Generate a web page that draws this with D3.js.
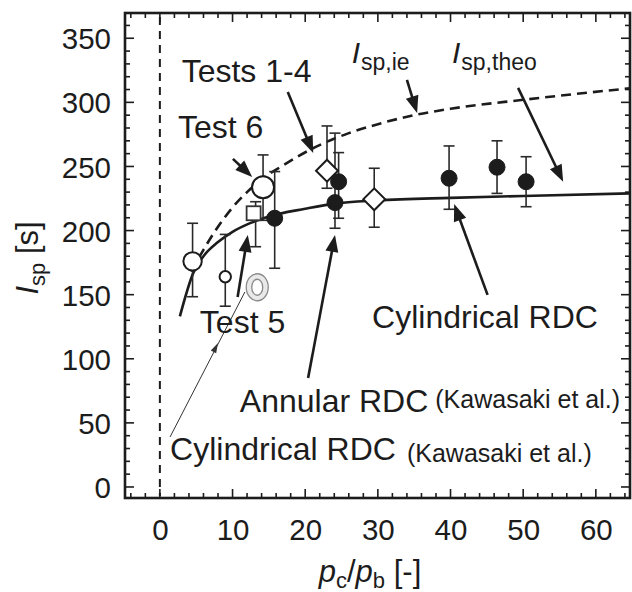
<!DOCTYPE html>
<html><head><meta charset="utf-8">
<script src="https://cdn.jsdelivr.net/npm/d3@7"></script>
<style>
body{margin:0;background:#fff}
svg{display:block}
text{font-family:"Liberation Sans",Arial,Helvetica,sans-serif;fill:#1c1c1c}
</style>
</head><body><svg id="c" width="632" height="592"></svg>
<script>
// ---------------- data ----------------
const xTickValues = [0, 10, 20, 30, 40, 50, 60];
const yTickValues = [0, 50, 100, 150, 200, 250, 300, 350];

// Isp,theo (solid) and Isp,ie (dashed) curves
const theoX = [2.75, 4.6, 6, 8, 10, 12.5, 15, 20, 24, 30, 40, 50, 64.7];
const theoY = [133, 167, 180, 191, 199, 206, 211, 217, 221, 223.5, 225.5, 227, 229];
const ieX = [4.3, 6, 8, 10, 12, 14, 17, 21, 26, 30, 35, 40, 50, 64.7];
const ieY = [168, 185, 203, 218, 230, 240, 251, 264, 276, 283, 290, 295, 302, 311];

// Cylindrical RDC (filled circles)
const cylX = [15.8, 24.1, 24.6, 39.8, 46.4, 50.4];
const cylY = [209.6, 221.8, 238.1, 240.8, 249.4, 238.1];
const cylLo = [170.6, 201.8, 209.6, 216.6, 229, 218.6];
const cylHi = [246, 276, 260.8, 266, 270, 257.6];

// Annular RDC (Kawasaki et al.) diamonds
const annX = [23.0, 29.5];
const annY = [246.7, 224.4];
const annLo = [233, 202.6];
const annHi = [281.6, 248.6];

// Tests 1-4 (large open circle), Test 6, small open circle
const bigOpenX = [4.5];
const bigOpenY = [176];
const bigOpenLo = [148.4];
const bigOpenHi = [205.7];
const test6X = [14.2];
const test6Y = [233.8];
const test6Lo = [208];
const test6Hi = [259];
const smallOpenX = [9.0];
const smallOpenY = [164];
const smallOpenLo = [141];
const smallOpenHi = [197];

// open square
const squareX = [12.9];
const squareY = [213.5];
const squareLo = [187.4];
const squareHi = [222.5];

// Test 5 (double circle)
const test5X = [13.4];
const test5Y = [155.8];

// annotation texts
const labels = [
  {t: "Tests 1-4", x: 3.0, y: 315.9, s: 32},
  {t: "Test 6", x: 2.5, y: 272.2, s: 32},
  {t: "Test 5", x: 5.5, y: 120.1, s: 32},
  {t: "Cylindrical RDC", x: 29.2, y: 124, s: 32},
  {t: "Annular RDC", x: 11, y: 58.5, s: 32},
  {t: "(Kawasaki et al.)", x: 37.9, y: 61.6, s: 25},
  {t: "Cylindrical RDC", x: 1.4, y: 21, s: 32},
  {t: "(Kawasaki et al.)", x: 34, y: 19.5, s: 25}
];
const subLabels = [
  {main: "I", sub: "sp,ie", x: 26.4, y: 330.7},
  {main: "I", sub: "sp,theo", x: 40.2, y: 330.7}
];
// arrows [x1,y1,x2,y2] in data units (tail -> head)
const arrows = [
  [17.6, 308, 21.1, 260.5],
  [34.0, 317.5, 35.4, 291.7],
  [49.3, 311.3, 55.5, 238],
  [10.05, 255.9, 12.7, 241.8],
  [10.7, 148.2, 12.1, 196.6],
  [20.4, 85, 24.1, 196.6],
  [45.1, 149.8, 40.5, 220.7]
];
const thinArrow = [1.4, 39, 11.7, 152.1];
const thinHeadAt = [8.0, 112.3];

// ---------------- chart ----------------
const svg = d3.select("#c");
const L = 125, R = 630, T = 13, B = 498;
const x = d3.scaleLinear().domain([-4.8, 64.7]).range([L, R]);
const y = d3.scaleLinear().domain([-8.6, 369.7]).range([B, T]);
const ink = "#1c1c1c";

const defs = svg.append("defs");
defs.append("clipPath").attr("id", "clip").append("rect")
  .attr("x", L).attr("y", T).attr("width", R - L).attr("height", B - T);

// vertical dashed line at x=0
svg.append("line").attr("x1", x(0)).attr("x2", x(0)).attr("y1", T + 4).attr("y2", B - 2)
  .attr("stroke", ink).attr("stroke-width", 2).attr("stroke-dasharray", "8,6");

// ticks (inward on all four sides)
const tickG = svg.append("g").attr("stroke", ink).attr("stroke-width", 1.6);
d3.range(-4, 65, 2).forEach(v => {
  const len = v % 10 === 0 ? 9 : 5;
  tickG.append("line").attr("x1", x(v)).attr("x2", x(v)).attr("y1", B).attr("y2", B - len);
  tickG.append("line").attr("x1", x(v)).attr("x2", x(v)).attr("y1", T).attr("y2", T + len);
});
d3.range(0, 370, 10).forEach(v => {
  const len = v % 50 === 0 ? 9 : 5;
  tickG.append("line").attr("y1", y(v)).attr("y2", y(v)).attr("x1", L).attr("x2", L + len);
  tickG.append("line").attr("y1", y(v)).attr("y2", y(v)).attr("x1", R).attr("x2", R - len);
});

// tick labels via axes (domain & tick lines hidden)
const xAxis = d3.axisBottom(x).tickValues(xTickValues).tickSize(0).tickPadding(0);
const gx = svg.append("g").attr("transform", `translate(0,${B})`).call(xAxis);
gx.select(".domain").remove();
gx.selectAll("text").attr("font-size", 29.5).attr("dy", null).attr("y", 42)
  .style("font-family", '"Liberation Sans",Arial,sans-serif').attr("fill", ink);
const yAxis = d3.axisLeft(y).tickValues(yTickValues).tickSize(0).tickPadding(0);
const gy = svg.append("g").attr("transform", `translate(${L},0)`).call(yAxis);
gy.select(".domain").remove();
gy.selectAll("text").attr("font-size", 29.5).attr("x", -14).attr("dy", "0.36em")
  .style("font-family", '"Liberation Sans",Arial,sans-serif').attr("fill", ink);

// axis titles
const xt = svg.append("text").attr("x", 370).attr("y", 582).attr("text-anchor", "middle").attr("font-size", 31);
xt.append("tspan").text("p").attr("font-style", "italic");
xt.append("tspan").text("c").attr("font-size", 22).attr("dy", 6);
xt.append("tspan").text("/").attr("dy", -6);
xt.append("tspan").text("p").attr("font-style", "italic");
xt.append("tspan").text("b").attr("font-size", 22).attr("dy", 6);
xt.append("tspan").text(" [-]").attr("dy", -6);

const yt = svg.append("text").attr("transform", "translate(38,258) rotate(-90)")
  .attr("text-anchor", "middle").attr("font-size", 31);
yt.append("tspan").text("I").attr("font-style", "italic");
yt.append("tspan").text("sp").attr("font-size", 22).attr("dy", 7);
yt.append("tspan").text(" [s]").attr("dy", -7);

// curves
const plot = svg.append("g").attr("clip-path", "url(#clip)");
const line = d3.line().x(d => x(d[0])).y(d => y(d[1])).curve(d3.curveMonotoneX);
plot.append("path").attr("d", line(d3.zip(theoX, theoY)))
  .attr("fill", "none").attr("stroke", ink).attr("stroke-width", 2.6);
plot.append("path").attr("d", line(d3.zip(ieX, ieY)))
  .attr("fill", "none").attr("stroke", ink).attr("stroke-width", 2.6).attr("stroke-dasharray", "10,6");

// error bars
function errBars(xs, lo, hi, dx) {
  const g = plot.append("g").attr("stroke", "#2a2a2a").attr("stroke-width", 1.6).attr("fill", "none");
  xs.forEach((v, i) => {
    const cx = x(v) + (dx || 0);
    g.append("line").attr("x1", cx).attr("x2", cx).attr("y1", y(lo[i])).attr("y2", y(hi[i]));
    g.append("line").attr("x1", cx - 5.5).attr("x2", cx + 5.5).attr("y1", y(lo[i])).attr("y2", y(lo[i]));
    g.append("line").attr("x1", cx - 5.5).attr("x2", cx + 5.5).attr("y1", y(hi[i])).attr("y2", y(hi[i]));
  });
}
errBars(bigOpenX, bigOpenLo, bigOpenHi);
errBars(smallOpenX, smallOpenLo, smallOpenHi);
errBars(test6X, test6Lo, test6Hi);
errBars(squareX, squareLo, squareHi, 2);
errBars(annX, annLo, annHi);
errBars(cylX, cylLo, cylHi);

// markers
squareX.forEach((v, i) => plot.append("rect").attr("x", x(v) - 7).attr("y", y(squareY[i]) - 7)
  .attr("width", 14).attr("height", 14).attr("fill", "#fff").attr("stroke", "#333").attr("stroke-width", 1.8));
const dia = d3.symbol().type(d3.symbolSquare).size(240);
annX.forEach((v, i) => plot.append("path").attr("d", dia())
  .attr("transform", `translate(${x(v)},${y(annY[i])}) rotate(45)`)
  .attr("fill", "#fff").attr("stroke", ink).attr("stroke-width", 2));
function circ(xs, ys, r, fill, sw) {
  xs.forEach((v, i) => plot.append("circle").attr("cx", x(v)).attr("cy", y(ys[i])).attr("r", r)
    .attr("fill", fill).attr("stroke", ink).attr("stroke-width", sw));
}
circ(bigOpenX, bigOpenY, 9.2, "#fff", 2);
circ(smallOpenX, smallOpenY, 5.7, "#fff", 2);
circ(test6X, test6Y, 11, "#fff", 2);
circ(cylX, cylY, 8, ink, 1);
test5X.forEach((v, i) => {
  plot.append("ellipse").attr("cx", x(v)).attr("cy", y(test5Y[i])).attr("rx", 11).attr("ry", 13.5)
    .attr("fill", "#e9e9e9").attr("stroke", "#8a8a8a").attr("stroke-width", 1.3);
  plot.append("ellipse").attr("cx", x(v)).attr("cy", y(test5Y[i])).attr("rx", 5.5).attr("ry", 8)
    .attr("fill", "#fff").attr("stroke", "#8a8a8a").attr("stroke-width", 1.3);
});

// annotations
function headPath(x1, y1, x2, y2, len, wid) {
  const a = Math.atan2(y2 - y1, x2 - x1);
  const bx = x2 - len * Math.cos(a), by = y2 - len * Math.sin(a);
  const px = -Math.sin(a) * wid / 2, py = Math.cos(a) * wid / 2;
  return `M${x2},${y2}L${bx + px},${by + py}L${bx - px},${by - py}Z`;
}
const ag = svg.append("g");
arrows.forEach(a => {
  const x1 = x(a[0]), y1 = y(a[1]), x2 = x(a[2]), y2 = y(a[3]);
  const ang = Math.atan2(y2 - y1, x2 - x1);
  ag.append("line").attr("x1", x1).attr("y1", y1)
    .attr("x2", x2 - 12 * Math.cos(ang)).attr("y2", y2 - 12 * Math.sin(ang))
    .attr("stroke", ink).attr("stroke-width", 2.6);
  ag.append("path").attr("d", headPath(x1, y1, x2, y2, 17, 13)).attr("fill", ink);
});
{
  const x1 = x(thinArrow[0]), y1 = y(thinArrow[1]), x2 = x(thinArrow[2]), y2 = y(thinArrow[3]);
  ag.append("line").attr("x1", x1).attr("y1", y1).attr("x2", x2).attr("y2", y2)
    .attr("stroke", "#333").attr("stroke-width", 1);
  const hx = x(thinHeadAt[0]), hy = y(thinHeadAt[1]);
  ag.append("path").attr("d", headPath(x1, y1, hx, hy, 10, 6)).attr("fill", "#333");
}

labels.forEach(l => svg.append("text").attr("x", x(l.x)).attr("y", y(l.y))
  .attr("font-size", l.s).text(l.t));
subLabels.forEach(l => {
  const t = svg.append("text").attr("x", x(l.x)).attr("y", y(l.y)).attr("font-size", 30);
  t.append("tspan").text(l.main).attr("font-style", "italic");
  t.append("tspan").text(l.sub).attr("font-size", 23).attr("dy", 7).attr("dx", 1);
});

// frame
svg.append("rect").attr("x", L).attr("y", T).attr("width", R - L).attr("height", B - T)
  .attr("fill", "none").attr("stroke", ink).attr("stroke-width", 2.6);
</script>
</body></html>
